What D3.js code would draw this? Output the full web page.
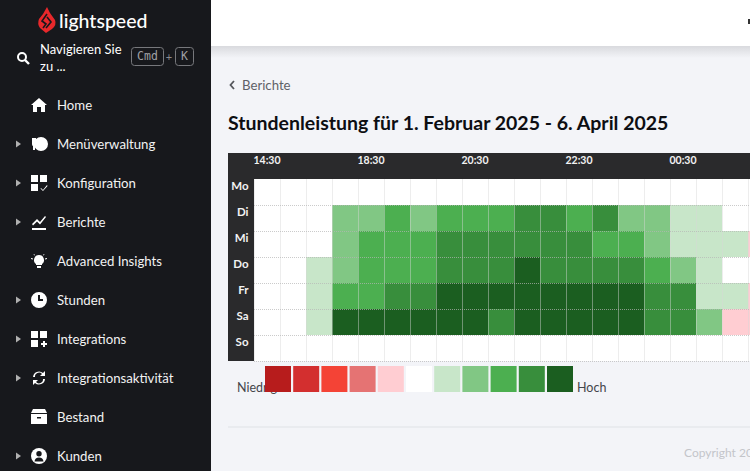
<!DOCTYPE html>
<html>
<head>
<meta charset="utf-8">
<title>Stundenleistung</title>
<style>
	html, body { margin: 0; padding: 0; background: #f3f4f8; overflow: hidden; }
	svg { display: block; font-family: Lato, sans-serif; }
</style>
</head>
<body>
<script src="https://cdnjs.cloudflare.com/ajax/libs/d3/7.8.5/d3.min.js"></script>
<script>
	var days = ["Mo", "Di", "Mi", "Do", "Fr", "Sa", "So"];
	var slots = ["14:30", "15:30", "16:30", "17:30", "18:30", "19:00", "19:30", "20:00", "20:30", "21:00",
		"21:30", "22:00", "22:30", "23:00", "23:30", "00:00", "00:30", "01:00", "01:30", "02:00"];
	var tickLabels = ["14:30", "18:30", "20:30", "22:30", "00:30"];

	// performance level per slot, -5 (low) .. 5 (high)
	var mo = [0, 0, 0, 0, 0, 0, 0, 0, 0, 0, 0, 0, 0, 0, 0, 0, 0, 0, 0, 0];
	var di = [0, 0, 0, 2, 2, 3, 2, 3, 3, 3, 4, 4, 3, 4, 2, 2, 1, 1, 0, 0];
	var mi = [0, 0, 0, 2, 3, 3, 3, 4, 4, 4, 4, 4, 4, 3, 3, 2, 1, 1, 1, -1];
	var dn = [0, 0, 1, 2, 3, 3, 3, 4, 4, 4, 5, 4, 4, 4, 4, 3, 2, 1, 0, 0];
	var fr = [0, 0, 1, 3, 3, 4, 4, 5, 5, 5, 5, 5, 5, 5, 5, 4, 4, 1, 1, -1];
	var sa = [0, 0, 1, 5, 5, 5, 5, 5, 5, 4, 5, 5, 5, 5, 5, 4, 4, 2, -1, -1];
	var so = [0, 0, 0, 0, 0, 0, 0, 0, 0, 0, 0, 0, 0, 0, 0, 0, 0, 0, 0, 0];
	var rows = [mo, di, mi, dn, fr, sa, so];

	var levels = [-5, -4, -3, -2, -1, 0, 1, 2, 3, 4, 5];
	var palette = ["#b71c1c", "#d32f2f", "#f44336", "#e57373", "#ffcdd2", "#ffffff",
		"#c8e6c9", "#81c784", "#4caf50", "#388e3c", "#1b5e20"];

	var menu = ["Home", "Menüverwaltung", "Konfiguration", "Berichte", "Advanced Insights",
		"Stunden", "Integrations", "Integrationsaktivität", "Bestand", "Kunden"];
	var expandable = [false, true, true, true, false, true, true, true, false, true];

	var w = 750, h = 471;
	var svg = d3.select("body").append("svg").attr("width", w).attr("height", h);

	var defs = svg.append("defs");
	var shadow = defs.append("linearGradient").attr("id", "shadow").attr("x2", 0).attr("y2", 1);
	shadow.append("stop").attr("offset", 0).attr("stop-color", "#d9dade");
	shadow.append("stop").attr("offset", 1).attr("stop-color", "#f3f4f8");

	// page frame
	svg.append("rect").attr("x", 211).attr("y", 46).attr("width", 539).attr("height", 12).attr("fill", "url(#shadow)");
	svg.append("rect").attr("x", 211).attr("width", 539).attr("height", 46).attr("fill", "#fff");
	svg.append("rect").attr("x", 748).attr("y", 19).attr("width", 2).attr("height", 5).attr("fill", "#333");
	svg.append("rect").attr("width", 211).attr("height", h).attr("fill", "#17181c");

	// sidebar
	var side = svg.append("g");
	side.append("path")
		.attr("d", "M47 7 L50 13 L55 20 Q57 25 52 29 L46 33 L40 28 Q37 24 39 19 L43 14 Z")
		.attr("fill", "#e8282b");
	side.append("path")
		.attr("d", "M47 14 L42 21 L46 24 L43 28 M47 17 L51 22 L46 28")
		.attr("fill", "none").attr("stroke", "#17181c").attr("stroke-width", 1.6);
	side.append("text").attr("x", 59).attr("y", 27.5).attr("fill", "#fff")
		.attr("font-size", 19.5).attr("font-weight", 500).text("lightspeed");

	side.append("circle").attr("cx", 22).attr("cy", 57).attr("r", 4).attr("fill", "none").attr("stroke", "#fff").attr("stroke-width", 2);
	side.append("path").attr("d", "M25 60 L29 64").attr("stroke", "#fff").attr("stroke-width", 2.4);
	side.append("text").attr("x", 40).attr("y", 54).attr("fill", "#fff").attr("font-size", 13).text("Navigieren Sie");
	side.append("text").attr("x", 40).attr("y", 71).attr("fill", "#fff").attr("font-size", 13).text("zu ...");
	side.append("rect").attr("x", 131.5).attr("y", 47.5).attr("width", 32).attr("height", 18).attr("rx", 3)
		.attr("fill", "none").attr("stroke", "#77787c");
	side.append("text").attr("x", 147.5).attr("y", 60).attr("text-anchor", "middle").attr("fill", "#a0a1a5")
		.attr("font-size", 11.5).attr("font-family", "DejaVu Sans Mono, monospace").text("Cmd");
	side.append("text").attr("x", 169).attr("y", 60.5).attr("text-anchor", "middle").attr("fill", "#8a8b8f").attr("font-size", 11).text("+");
	side.append("rect").attr("x", 175.5).attr("y", 47.5).attr("width", 18).attr("height", 18).attr("rx", 3)
		.attr("fill", "none").attr("stroke", "#77787c");
	side.append("text").attr("x", 184.5).attr("y", 60).attr("text-anchor", "middle").attr("fill", "#a0a1a5")
		.attr("font-size", 11.5).attr("font-family", "DejaVu Sans Mono, monospace").text("K");

	var menuY = d3.scalePoint().domain(menu).range([105, 456]);
	var items = side.selectAll("g.item").data(menu).enter().append("g")
		.attr("class", "item")
		.attr("transform", function(d) { return "translate(0," + menuY(d) + ")"; });
	items.append("text").attr("x", 57).attr("y", 4.5).attr("fill", "#f2f2f2").attr("font-size", 13.2)
		.text(function(d) { return d; });
	items.filter(function(d, i) { return expandable[i]; }).append("path")
		.attr("d", "M16 -3.5 L21 0 L16 3.5 Z").attr("fill", "#b0b0b0");

	// menu icons, each drawn around its own centre at x=39
	var icons = [
		"M39 -7 L47 0 L45 0 L45 7 L41 7 L41 2 L37 2 L37 7 L33 7 L33 0 L31 0 Z",
		"M32 -6 L36 -6 L36 0 Q36 2 35 2 L35 6 L33 6 L33 2 Q32 2 32 0 Z M41 -7 A7 7 0 1 1 41 7 A7 7 0 1 1 41 -7 Z",
		"M31 -8 L38 -8 L38 -1 L31 -1 Z M40 -8 L47 -8 L47 -1 L40 -1 Z M31 1 L38 1 L38 8 L31 8 Z M41 5 L43 7 L47 2 L47.5 3 L43 8 L40.5 5.5 Z",
		"M32 2 L37 -3 L40 0 L45 -6 L46 -5 L40 2.5 L37 -0.5 L33 3.5 Z M32 6 L46 6 L46 8 L32 8 Z",
		"M39 -6 A5 5 0 0 1 42 3 L42 4 L36 4 L36 3 A5 5 0 0 1 39 -6 Z M37 5 L41 5 L41 7 L37 7 Z M31 -3 L33 -2.5 L33 -1.5 L31 -2 Z M47 -3 L45 -2.5 L45 -1.5 L47 -2 Z M34 -7 L35 -6 L34.5 -5.5 L33.5 -6.5 Z M44 -7 L43 -6 L43.5 -5.5 L44.5 -6.5 Z",
		"M39 -8 A8 8 0 1 1 39 8 A8 8 0 1 1 39 -8 Z M38 -5 L38 1 L43 1 L43 -1 L40 -1 L40 -5 Z",
		"M31 -8 L38 -8 L38 -1 L31 -1 Z M40 -8 L47 -8 L47 -1 L40 -1 Z M31 1 L38 1 L38 8 L31 8 Z M43 2 L45 2 L45 4 L47 4 L47 6 L45 6 L45 8 L43 8 L43 6 L41 6 L41 4 L43 4 Z",
		"M33 -1 A6 6 0 0 1 43 -5 L45 -7 L45 -2 L40 -2 L42 -4 A4 4 0 0 0 35 -1 Z M45 1 A6 6 0 0 1 35 5 L33 7 L33 2 L38 2 L36 4 A4 4 0 0 0 43 1 Z",
		"M33 -8 L45 -8 L47 -4 L31 -4 Z M31 -3 L47 -3 L47 7 L31 7 Z",
		"M39 -8 A8 8 0 1 1 39 8 A8 8 0 1 1 39 -8 Z"
	];
	items.append("path").attr("d", function(d, i) { return icons[i]; }).attr("fill", "#fff");
	items.filter(function(d) { return d == "Bestand"; }).append("rect")
		.attr("x", 37).attr("y", 0).attr("width", 4).attr("height", 1.5).attr("fill", "#17181c");
	items.filter(function(d) { return d == "Kunden"; }).append("path")
		.attr("d", "M39 -5 A2.7 2.7 0 1 1 39 0.4 A2.7 2.7 0 1 1 39 -5 Z M34.5 5.5 Q35 1.5 39 1.5 Q43 1.5 43.5 5.5 Z")
		.attr("fill", "#17181c");

	// heading
	svg.append("path").attr("d", "M234 81 L230.5 85 L234 89").attr("fill", "none").attr("stroke", "#55575c").attr("stroke-width", 1.8);
	svg.append("text").attr("x", 242).attr("y", 89.5).attr("fill", "#5f6167").attr("font-size", 13.2).text("Berichte");
	svg.append("text").attr("x", 228).attr("y", 130).attr("fill", "#0d0e12").attr("font-size", 19.5)
		.attr("font-weight", 700).text("Stundenleistung für 1. Februar 2025 - 6. April 2025");

	// heatmap
	var cell = 26, left = 254, top0 = 179;
	var x = d3.scaleBand().domain(slots).range([left, left + cell * slots.length]);
	var y = d3.scaleBand().domain(days).range([top0, top0 + cell * days.length]);
	var color = d3.scaleOrdinal().domain(levels).range(palette);

	svg.append("rect").attr("x", 228).attr("y", 153).attr("width", 522).attr("height", 26).attr("fill", "#2a2a2c");
	svg.append("rect").attr("x", 228).attr("y", 179).attr("width", 26).attr("height", y.range()[1] - top0).attr("fill", "#2a2a2c");
	svg.append("rect").attr("x", left).attr("y", top0).attr("width", 496).attr("height", y.range()[1] - top0).attr("fill", "#fff");

	var cells = [];
	days.forEach(function(d, r) {
		slots.forEach(function(s, c) { cells.push({day: d, slot: s, value: rows[r][c]}); });
	});
	svg.append("g").selectAll("rect").data(cells).enter().append("rect")
		.attr("x", function(d) { return x(d.slot); })
		.attr("y", function(d) { return y(d.day); })
		.attr("width", x.bandwidth())
		.attr("height", y.bandwidth())
		.attr("fill", function(d) { return color(d.value); });

	// grid sits over the cells, faint on colour
	var grid = svg.append("g");
	grid.selectAll("line.v").data(slots).enter().append("line")
		.attr("x1", function(d) { return x(d) + 0.5; })
		.attr("x2", function(d) { return x(d) + 0.5; })
		.attr("y1", top0).attr("y2", y.range()[1])
		.attr("stroke", "#d6d6d6").attr("stroke-opacity", 0.45);
	grid.selectAll("line.h").data(days.concat(["end"])).enter().append("line")
		.attr("x1", left).attr("x2", w)
		.attr("y1", function(d, i) { return top0 + i * cell + 0.5; })
		.attr("y2", function(d, i) { return top0 + i * cell + 0.5; })
		.attr("stroke", "#b5b5b5").attr("stroke-opacity", function(d, i) { return i == 0 ? 0 : 0.7; })
		.attr("stroke-dasharray", "1,1");

	var xAxis = d3.axisTop(x).tickValues(tickLabels).tickSize(0).tickPadding(0);
	svg.append("g").attr("transform", "translate(0,159)").call(xAxis)
		.call(function(g) {
			g.select(".domain").remove();
			g.selectAll("text").attr("fill", "#f2f2f2").attr("font-size", 10.5).attr("font-weight", 700)
				.attr("font-family", "Lato, sans-serif").attr("dy", 5);
		});
	var yAxis = d3.axisLeft(y).tickSize(0).tickPadding(0);
	svg.append("g").attr("transform", "translate(248.5,-6)").call(yAxis)
		.call(function(g) {
			g.select(".domain").remove();
			g.selectAll("text").attr("fill", "#f2f2f2").attr("font-size", 11.5).attr("font-weight", 700)
				.attr("font-family", "Lato, sans-serif");
		});

	// legend, the swatches overlap the left label like in the app
	svg.append("text").attr("x", 237).attr("y", 392).attr("fill", "#44464b").attr("font-size", 12.5).text("Niedrig");
	var lx = d3.scaleBand().domain(levels).range([265, 265 + 28.2 * levels.length]);
	svg.append("g").selectAll("rect").data(levels).enter().append("rect")
		.attr("x", function(d) { return lx(d); })
		.attr("y", 366)
		.attr("width", 26)
		.attr("height", 26)
		.attr("fill", function(d) { return color(d); });
	svg.append("text").attr("x", 577).attr("y", 392).attr("fill", "#44464b").attr("font-size", 12.5).text("Hoch");

	// footer
	svg.append("rect").attr("x", 228).attr("y", 426.5).attr("width", 522).attr("height", 1).attr("fill", "#e0e1e5");
	svg.append("text").attr("x", 684).attr("y", 457).attr("fill", "#c3c5ca").attr("font-size", 12).text("Copyright 20");
</script>
</body>
</html>
